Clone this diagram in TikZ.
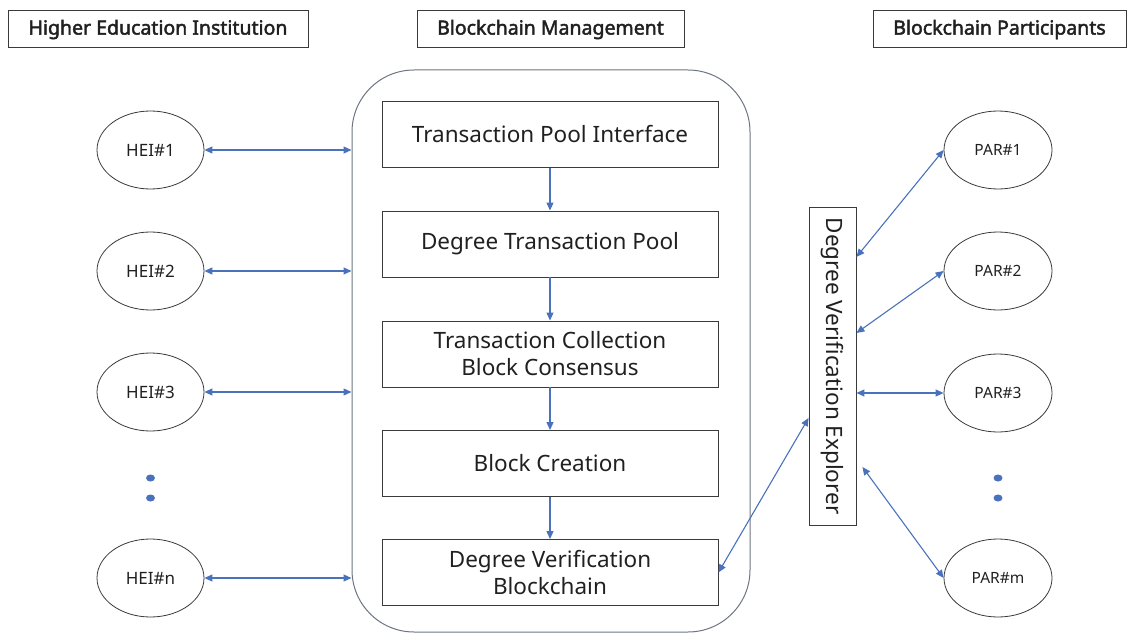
\documentclass[tikz,border=0pt]{standalone}
\usepackage{fontspec}
\setmainfont{Noto Sans}
\newfontfamily\hdrfont{Noto Sans}[FakeBold=2.2]
\usetikzlibrary{arrows.meta,calc,shapes.geometric}
\definecolor{arr}{HTML}{4A72BC}
\definecolor{ln}{HTML}{3A3A3A}
\definecolor{cont}{HTML}{6E7480}
\definecolor{txt}{HTML}{202020}
\begin{document}
\begin{tikzpicture}[x=1pt,y=-1pt,
  hdr/.style={draw=ln, line width=1pt, inner sep=0pt, minimum height=37,
    font=\hdrfont\fontsize{19.5}{22}\selectfont, text=txt},
  container/.style={draw=cont, line width=1pt, rounded corners=62pt, inner sep=0pt},
  stepbox/.style={draw=ln, line width=0.9pt, minimum width=336, minimum height=66,
    inner sep=0pt, align=center, font=\fontsize{22.5}{27}\selectfont, text=txt},
  hei/.style={ellipse, draw=ln, line width=0.8pt, minimum width=107, minimum height=78,
    inner sep=0pt, font=\fontsize{17}{20}\selectfont, text=txt},
  par/.style={ellipse, draw=ln, line width=0.8pt, minimum width=108, minimum height=78,
    inner sep=0pt, font=\fontsize{15.5}{19}\selectfont, text=txt},
  explorer/.style={draw=ln, line width=0.9pt, minimum width=47, minimum height=318, inner sep=0pt},
  link/.style={draw=arr, line width=1.1pt, {Triangle[length=8pt,width=7pt]}-{Triangle[length=8pt,width=7pt]}},
  down/.style={draw=arr, line width=1.1pt, -{Triangle[length=8pt,width=7pt]}},
  dot/.style={ellipse, fill=arr, minimum width=9, minimum height=7, inner sep=0pt}
]
\useasboundingbox (0,0) rectangle (1128,634);

% headers
\node[hdr, minimum width=300] (h1) at (158,29.5) {Higher Education Institution};
\node[hdr, minimum width=267] (h2) at (550.5,29.5) {Blockchain Management};
\node[hdr, minimum width=253] (h3) at (999.5,29.5) {Blockchain Participants};

% container
\node[container, minimum width=398, minimum height=562] (bm) at (551,351) {};

% step boxes
\node[stepbox] (b1) at (550,134.5) {Transaction Pool Interface};
\node[stepbox] (b2) at (550,244) {Degree Transaction Pool};
\node[stepbox] (b3) at (550,354) {Transaction Collection\\Block Consensus};
\node[stepbox] (b4) at (550,463.5) {Block Creation};
\node[stepbox] (b5) at (550,572.5) {Degree Verification\\Blockchain};

\draw[down] (b1) -- (b2);
\draw[down] (b2) -- (b3);
\draw[down] (b3) -- (b4);
\draw[down] (b4) -- (b5);

% HEIs
\node[hei] (e1) at (150.5,150) {HEI\#1};
\node[hei] (e2) at (150.5,271) {HEI\#2};
\node[hei] (e3) at (150.5,392) {HEI\#3};
\node[hei] (e4) at (150.5,578) {HEI\#n};
\node[dot] (ed1) at (150.5,478) {};
\node[dot] (ed2) at (150.5,498) {};

\draw[link] (e1.east) -- (bm.west |- e1.east);
\draw[link] (e2.east) -- (bm.west |- e2.east);
\draw[link] (e3.east) -- (bm.west |- e3.east);
\draw[link] (e4.east) -- (bm.west |- e4.east);

% explorer
\node[explorer] (ex) at (832.5,366) {};
\node[rotate=-90, inner sep=0pt, font=\fontsize{22.5}{27}\selectfont, text=txt] (ext) at (ex.center) {Degree Verification Explorer};

% participants
\node[par] (p1) at (998,150) {PAR\#1};
\node[par] (p2) at (998,271) {PAR\#2};
\node[par] (p3) at (998,393) {PAR\#3};
\node[par] (p4) at (998,578) {PAR\#m};
\node[dot] (pd1) at (998,478) {};
\node[dot] (pd2) at (998,498) {};

\draw[link] (p1.west) -- ($(ex.east)+(0,-109)$);
\draw[link] (p2.west) -- ($(ex.east)+(0,-33)$);
\draw[link] (p3.west) -- (ex.east |- p3.west);
\draw[link] (p4.west) -- ($(ex.east)+(6,101)$);
\draw[link] (b5.east) -- ($(ex.west)+(0,52)$);
\end{tikzpicture}
\end{document}
